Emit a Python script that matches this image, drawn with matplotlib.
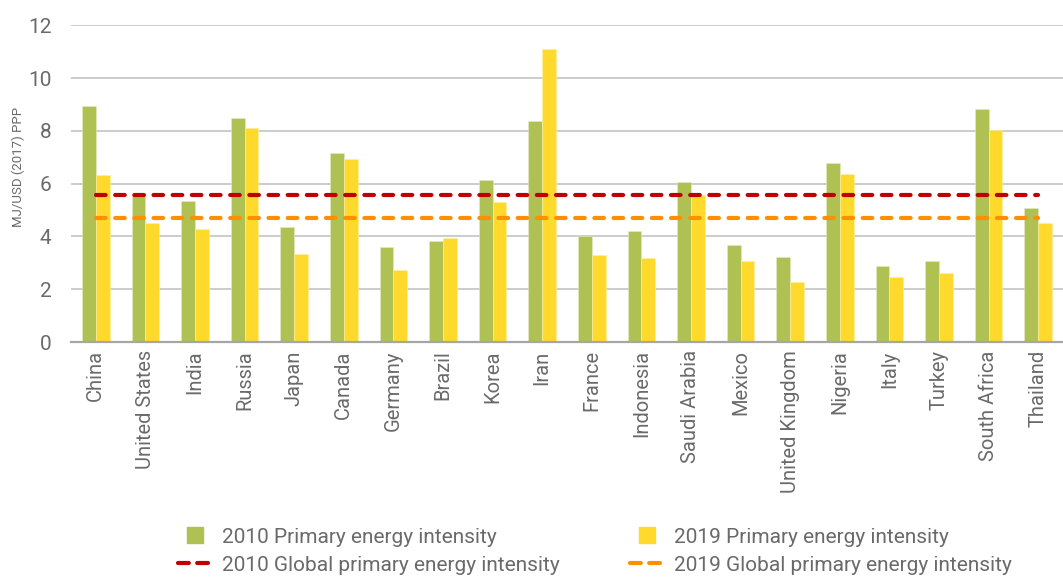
import matplotlib
matplotlib.use("Agg")
import matplotlib.pyplot as plt
import numpy as np
from matplotlib.lines import Line2D

countries = ["China", "United States", "India", "Russia", "Japan", "Canada", "Germany",
             "Brazil", "Korea", "Iran", "France", "Indonesia", "Saudi Arabia", "Mexico",
             "United Kingdom", "Nigeria", "Italy", "Turkey", "South Africa", "Thailand"]
intensity_2010 = [8.94, 5.58, 5.36, 8.50, 4.36, 7.17, 3.59, 3.84, 6.13, 8.38,
                  4.01, 4.20, 6.07, 3.68, 3.22, 6.80, 2.87, 3.06, 8.84, 5.09]
intensity_2019 = [6.33, 4.51, 4.30, 8.10, 3.32, 6.94, 2.74, 3.94, 5.32, 11.12,
                  3.30, 3.17, 5.58, 3.07, 2.29, 6.38, 2.47, 2.62, 8.04, 4.51]
global_2010 = 5.58
global_2019 = 4.70
yticks = [0, 2, 4, 6, 8, 10, 12]

plt.rcParams['font.family'] = ['Roboto', 'DejaVu Sans']
text_color = "#6a6a6a"
green = "#AFC153"
yellow = "#FFD92C"
red = "#C00000"
orange = "#FF8F00"
weight = "normal"

fig = plt.figure(figsize=(10.63, 5.80), dpi=100)
ax = fig.add_axes([71/1063, 1 - 342/580, 1 - 71/1063, (342 - 25.3)/580])

x = np.arange(len(countries))
w = 0.28
ax.bar(x - w/2, intensity_2010, width=w, color=green, edgecolor="#E6EBC8", linewidth=0.4, zorder=2)
ax.bar(x + w/2, intensity_2019, width=w, color=yellow, edgecolor="#FFF0A0", linewidth=0.4, zorder=2)

lw = 3.0
ax.plot([x[0], x[-1]], [global_2010, global_2010], color=red, lw=lw,
        dashes=(2.3, 2.3), dash_capstyle="round", zorder=3)
ax.plot([x[0], x[-1]], [global_2019, global_2019], color=orange, lw=lw,
        dashes=(2.3, 2.3), dash_capstyle="round", zorder=3)

ax.set_xlim(-0.5, len(countries) - 0.5)
ax.set_ylim(0, 12)
ax.set_yticks(yticks)
ax.set_yticklabels([str(v) for v in yticks], fontsize=15, color=text_color, fontweight=weight)
ax.set_xticks(x)
ax.set_xticklabels(countries, rotation=90, fontsize=14.5, color=text_color, fontweight=weight)
ax.tick_params(axis="both", length=0, pad=6)
ax.tick_params(axis="y", pad=14)
ax.yaxis.grid(True, color="#BFBFBF", linewidth=1.1, zorder=0)
ax.set_axisbelow(True)
for s in ["top", "right", "left"]:
    ax.spines[s].set_visible(False)
ax.spines["bottom"].set_color("#A6A6A6")
ax.spines["bottom"].set_linewidth(1.6)
ax.spines["bottom"].set_zorder(4)

fig.text(18/1063, 1 - 167/580, "MJ/USD (2017) PPP", rotation=90, fontsize=9.5,
         color=text_color, ha="center", va="center", fontweight=weight)

handles = [
    Line2D([0], [0], marker="s", markersize=11, linestyle="none", color=green),
    Line2D([0], [0], color=red, lw=lw, dashes=(2.6, 2.0), dash_capstyle="round"),
    Line2D([0], [0], marker="s", markersize=11, linestyle="none", color=yellow),
    Line2D([0], [0], color=orange, lw=lw, dashes=(2.6, 2.0), dash_capstyle="round"),
]
labels = ["2010 Primary energy intensity", "2010 Global primary energy intensity",
          "2019 Primary energy intensity", "2019 Global primary energy intensity"]
leg = fig.legend(handles, labels, ncol=2, loc="center", bbox_to_anchor=(595/1063, 1 - 551/580),
                 frameon=False, fontsize=15, handlelength=1.6, handleheight=1.0,
                 handletextpad=0.5, columnspacing=3.4, labelspacing=0.35, labelcolor=text_color)
for t in leg.get_texts():
    t.set_fontweight(weight)

fig.savefig("out.png", dpi=100)
